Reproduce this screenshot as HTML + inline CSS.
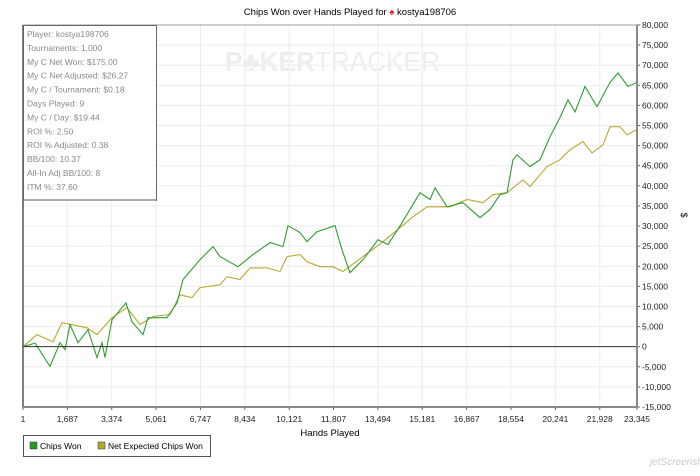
<!DOCTYPE html>
<html><head><meta charset="utf-8"><style>
body{margin:0;background:#fff;width:700px;height:471px;overflow:hidden;font-family:"Liberation Sans",sans-serif}
svg text{font-family:"Liberation Sans",sans-serif}
</style></head><body>
<svg width="700" height="471" xmlns="http://www.w3.org/2000/svg">
<g id="grid"></g>
<text x="225" y="71" font-size="28" font-weight="bold" fill="#eeeeee" textLength="215" lengthAdjust="spacingAndGlyphs">P♣KER<tspan font-weight="normal">TRACKER</tspan></text>
<g id="series"></g>
<g id="axes"></g>
<text x="350" y="15" font-size="9.5" text-anchor="middle" fill="#000">Chips Won over Hands Played for <tspan fill="#d22">♠</tspan> kostya198706</text>
<text x="330" y="436" font-size="9.5" text-anchor="middle" fill="#000">Hands Played</text>
<text x="681" y="215" font-size="9" text-anchor="middle" fill="#000" transform="rotate(90 681 215)">$</text>
<g>
<rect x="23.5" y="25.5" width="133" height="175" fill="#fff" stroke="#666"/>
<line x1="24" y1="200" x2="156" y2="200" stroke="#aaa" stroke-width="2"/>
<g id="stats" font-size="8.5" fill="#8a8a8a"></g>
</g>
<g>
<rect x="23.5" y="435.5" width="187" height="21" fill="#fff" stroke="#555"/>
<rect x="30" y="442" width="7" height="7" fill="#2a9a2a" stroke="#333" stroke-width="0.5"/>
<text x="40" y="449" font-size="8.5">Chips Won</text>
<rect x="98" y="442" width="7" height="7" fill="#b5a533" stroke="#333" stroke-width="0.5"/>
<text x="108" y="449" font-size="8.5">Net Expected Chips Won</text>
</g>
<text x="650" y="465" font-size="10" fill="#ccc" font-style="italic">jetScreenshot</text>
</svg>
<script>
const xTickLabels=["1","1,687","3,374","5,061","6,747","8,434","10,121","11,807","13,494","15,181","16,867","18,554","20,241","21,928","23,345"];
const xTickValues=[1,1687,3374,5061,6747,8434,10121,11807,13494,15181,16867,18554,20241,21928,23345];
const yTickValues=[80000,75000,70000,65000,60000,55000,50000,45000,40000,35000,30000,25000,20000,15000,10000,5000,0,-5000,-10000,-15000];
const chipsHands=[0,456,1027,1407,1597,1787,2091,2471,2813,3004,3118,3384,3916,4144,4563,4753,5475,5855,6083,6730,7224,7490,8175,8745,9391,9886,10076,10532,10798,11178,11863,12129,12433,12927,13497,13877,14410,15094,15474,15664,16120,16728,17375,17755,18135,18401,18630,18782,19276,19657,20037,20417,20721,20987,21367,21824,22318,22622,23002,23345];
const chipsWon=[0,900,-4900,1000,-700,5500,1000,4200,-2700,1000,-2700,6700,10900,6200,3000,7200,7200,10900,16700,21600,24900,22400,19900,22900,25900,24900,30100,28400,26100,28600,30100,24100,18400,21600,26600,25400,30800,38300,36600,39500,34800,35800,32100,34100,37800,38300,46500,47700,44800,46500,52200,57000,61400,58400,64700,59700,65700,68100,64700,65700];
const expHands=[0,532,1141,1483,2433,2813,3384,3954,4449,4943,5589,5969,6425,6730,7490,7756,8250,8631,9277,9771,10038,10532,10798,11292,11786,12167,12927,13687,14828,15360,16234,16880,17489,17869,18401,19010,19276,19922,20417,20797,21291,21634,22052,22318,22698,22964,23345];
const expWon=[0,3000,1200,6000,4700,3000,7200,9700,5500,7500,8000,12900,12200,14700,15400,17400,16700,19600,19600,18700,22400,22900,21100,19900,19900,18700,22400,26100,32300,34800,34800,36600,35800,37800,38300,41500,39800,44800,46500,49000,51000,48200,50200,54700,54700,52700,54000];
const stats=["Player: kostya198706","Tournaments: 1,000","My C Net Won: $175.00","My C Net Adjusted: $26.27","My C / Tournament: $0.18","Days Played: 9","My C / Day: $19.44","ROI %: 2.50","ROI % Adjusted: 0.38","BB/100: 10.37","All-In Adj BB/100: 8","ITM %: 37.60"];
const L=23,R=637,T=25,B=407,xMax=23345,yMin=-15000,yMax=80000;
const xs=h=>L+(h-1)/(xMax-1)*(R-L);
const ys=v=>B-(v-yMin)/(yMax-yMin)*(B-T);
const NS="http://www.w3.org/2000/svg";
function mk(tag,attrs,parent,text){const e=document.createElementNS(NS,tag);for(const k in attrs)e.setAttribute(k,attrs[k]);if(text!==undefined)e.textContent=text;parent.appendChild(e);return e;}
const grid=document.getElementById('grid'),axes=document.getElementById('axes'),series=document.getElementById('series');
mk('rect',{x:L,y:T,width:R-L,height:B-T,fill:'#fff'},grid);
xTickValues.forEach((v,i)=>{const x=xs(v);
 const g=mk('line',{x1:x,y1:T,x2:x,y2:B,stroke:'#ececec'},grid);
 
 
 mk('line',{x1:x,y1:B,x2:x,y2:B+3,stroke:'#666'},axes);
 const t=mk('text',{x:x,y:B+15,'font-size':8.5,'text-anchor':'middle',fill:'#222'},axes,xTickLabels[i]);
 
 
});
yTickValues.forEach(v=>{const y=ys(v);
 const g=mk('line',{x1:L,y1:y,x2:R,y2:y,stroke:'#ececec'},grid);
 
 
 mk('line',{x1:R,y1:y,x2:R+3,y2:y,stroke:'#666'},axes);
 const t=mk('text',{x:R+5,y:y+3,'font-size':8.5,fill:'#222'},axes,v.toLocaleString('en-US'));
 
 
});
const z=mk('line',{x1:L,y1:ys(0),x2:R,y2:ys(0),stroke:'#333'},axes);


mk('line',{x1:L,y1:T,x2:L,y2:B,stroke:'#555',"stroke-width":1.5},axes);
mk('line',{x1:R,y1:T,x2:R,y2:B,stroke:'#888',"stroke-width":2},axes);
mk('line',{x1:L,y1:B,x2:R,y2:B,stroke:'#888',"stroke-width":2},axes);
mk('line',{x1:L,y1:T,x2:R,y2:T,stroke:'#999'},axes);
function line(hs,vs,color,name){const p=mk('polyline',{points:hs.map((h,i)=>xs(h).toFixed(1)+','+ys(vs[i]).toFixed(1)).join(' '),fill:'none',stroke:color,'stroke-width':1.1},series);
 
 }
line(expHands,expWon,'#b8a832','line-net-expected-chips-won');
line(chipsHands,chipsWon,'#2e9e30','line-chips-won');
const sg=document.getElementById('stats');
stats.forEach((s,i)=>{const t=mk('text',{x:27,y:37+i*13.9},sg,s);
 
 });
</script>
</body></html>
